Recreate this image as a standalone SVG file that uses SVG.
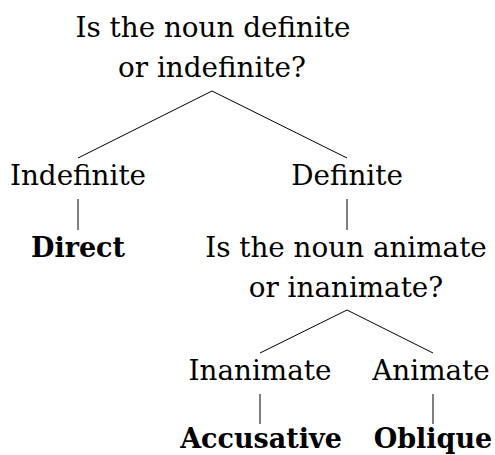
<svg xmlns="http://www.w3.org/2000/svg" width="495" height="455" viewBox="0 0 495 455">
<style>
text{font-family:"DejaVu Serif","Liberation Serif",serif;font-size:27.8px;fill:#000;text-anchor:middle}
.b{font-weight:bold;font-size:27px}
.c line{stroke:#000;stroke-width:1}
</style>
<rect width="495" height="455" fill="#fff"/>
<g class="c" id="connectors">
<line x1="212" y1="91" x2="78" y2="158"/>
<line x1="212" y1="91" x2="347" y2="158"/>
<line x1="78" y1="199" x2="78" y2="230"/>
<line x1="347" y1="199" x2="347" y2="230"/>
<line x1="347" y1="310" x2="260" y2="353"/>
<line x1="347" y1="310" x2="433" y2="353"/>
<line x1="260" y1="394" x2="260" y2="424"/>
<line x1="433" y1="394" x2="433" y2="424"/>
</g>
<g id="q1"><text x="213" y="37">Is the noun definite</text><text x="212" y="77">or indefinite?</text></g>
<g id="indefinite"><text x="78" y="185">Indefinite</text></g>
<g id="definite"><text x="347" y="185">Definite</text></g>
<g id="direct"><text class="b" x="78" y="257">Direct</text></g>
<g id="q2"><text x="346" y="257">Is the noun animate</text><text x="346" y="297">or inanimate?</text></g>
<g id="inanimate"><text x="260" y="380">Inanimate</text></g>
<g id="animate"><text x="431" y="380">Animate</text></g>
<g id="accusative"><text class="b" x="261" y="448">Accusative</text></g>
<g id="oblique"><text class="b" x="433" y="448">Oblique</text></g>
</svg>
